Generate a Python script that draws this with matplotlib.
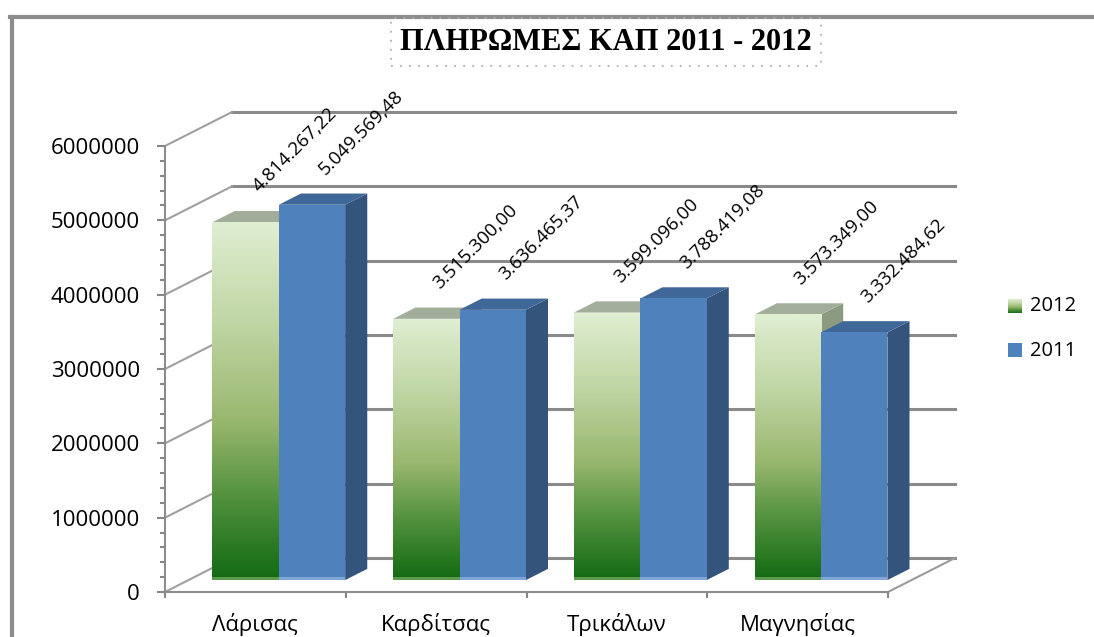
import numpy as np
import matplotlib
matplotlib.use("Agg")
import matplotlib.pyplot as plt
from matplotlib.patches import Polygon, Rectangle
from matplotlib.lines import Line2D
from matplotlib.colors import LinearSegmentedColormap
from matplotlib.ticker import MultipleLocator

categories = ["Λάρισας", "Καρδίτσας", "Τρικάλων", "Μαγνησίας"]
series_names = ["2012", "2011"]
values_2012 = [4814267.22, 3515300.00, 3599096.00, 3573349.00]
values_2011 = [5049569.48, 3636465.37, 3788419.08, 3332484.62]
y_ticks = [0, 1000000, 2000000, 3000000, 4000000, 5000000, 6000000]
title = "ΠΛΗΡΩΜΕΣ ΚΑΠ 2011 - 2012"

plt.rcParams['font.family'] = ['Open Sans', 'DejaVu Sans']

W, H = 1094, 637
fig = plt.figure(figsize=(W / 100, H / 100), dpi=100)
ax = fig.add_axes([165 / W, 45 / H, 723 / W, 446 / H])
ax.patch.set_visible(False)

# fake depth: one unit of depth moves 67 px right and 34 px up
KX = 67 / 180.75
KY = 34 / 74.33 * 1e6


def proj(x, y, d):
    return x + KX * d, y + KY * d


def gr_fmt(v):
    s = f"{v:,.2f}"
    return s.replace(",", "#").replace(".", ",").replace("#", ".")


grid_c = "#8a8a8a"
# back wall gridlines + left wall diagonals
for v in y_ticks:
    bx0, by0 = proj(-0.5, v, 1)
    bx1, by1 = proj(3.5, v, 1)
    ax.plot([bx0, bx1], [by0, by1], color=grid_c, lw=2.2, clip_on=False, zorder=1)
    ax.plot([-0.5, bx0], [v, by0], color="#a0a0a0", lw=1.5, clip_on=False, zorder=1)
fx, fy = proj(3.5, 0, 1)
ax.plot([3.5, fx], [0, fy], color="#9a9a9a", lw=1.5, clip_on=False, zorder=1)

green_cmap = LinearSegmentedColormap.from_list(
    "g", [(0, "#126a12"), (0.22, "#4f8f3c"), (0.45, "#9ab870"),
          (0.72, "#c0d6a4"), (1, "#e0eed2")])
grad = np.linspace(1, 0, 256).reshape(-1, 1)

bw = 0.367
d0, d1 = 0.35, 0.68
z = 2


def draw_bar(x0, x1, h, front, side, top, strip, gradient=False):
    global z
    side_pts = [proj(x1, 0, d0), proj(x1, 0, d1), proj(x1, h, d1), proj(x1, h, d0)]
    ax.add_patch(Polygon(side_pts, closed=True, fc=side, ec="none", clip_on=False, zorder=z))
    top_pts = [proj(x0, h, d0), proj(x1, h, d0), proj(x1, h, d1), proj(x0, h, d1)]
    ax.add_patch(Polygon(top_pts, closed=True, fc=top, ec="none", clip_on=False, zorder=z))
    fx0, fy0 = proj(x0, 0, d0)
    rect = Rectangle((fx0, fy0), x1 - x0, h, fc=front, ec="none", clip_on=False, zorder=z)
    ax.add_patch(rect)
    if gradient:
        im = ax.imshow(grad, cmap=green_cmap, vmin=0, vmax=1, aspect="auto",
                       extent=[fx0, fx0 + x1 - x0, fy0, fy0 + h], origin="upper",
                       interpolation="bilinear", zorder=z)
        im.set_clip_path(rect)
    ax.add_patch(Rectangle((fx0, fy0), x1 - x0, 40000, fc=strip, ec="none",
                           clip_on=False, zorder=z + 0.5))
    z += 1


for i in range(len(categories)):
    draw_bar(i - bw, i, values_2012[i], "#9ab870", "#8c9a80", "#a2ae9a", "#5b9a4c", True)
    draw_bar(i, i + bw, values_2011[i], "#4f81bd", "#34547c", "#3f6797", "#80a6d8")

for i in range(len(categories)):
    for xc, v in ((i - bw / 2, values_2012[i]), (i + bw / 2, values_2011[i])):
        ax.annotate(gr_fmt(v), xy=proj(xc, v, 0.515), xytext=(1.5, 17),
                    textcoords="offset points", rotation=45, rotation_mode="anchor",
                    ha="left", va="baseline", fontsize=13.5, annotation_clip=False,
                    zorder=50)

ax.set_xlim(-0.5, 3.5)
ax.set_ylim(0, 6e6)
for s in ("top", "right"):
    ax.spines[s].set_visible(False)
for s in ("left", "bottom"):
    ax.spines[s].set_color("#8c8c8c")
    ax.spines[s].set_linewidth(1.5)

ax.set_yticks(y_ticks)
ax.set_yticklabels([str(v) for v in y_ticks])
ax.yaxis.set_minor_locator(MultipleLocator(200000))
ax.tick_params(axis="y", which="major", length=6, width=1.5, color="#868686",
               pad=12, labelsize=16)
ax.tick_params(axis="y", which="minor", length=3.6, width=1.5, color="#868686")

ax.set_xticks([-0.5, 0.5, 1.5, 2.5, 3.5])
ax.set_xticklabels([])
ax.set_xticks(range(len(categories)), minor=True)
ax.set_xticklabels(categories, minor=True)
ax.tick_params(axis="x", which="major", length=4, width=1.5, color="#868686")
ax.tick_params(axis="x", which="minor", length=0, pad=15, labelsize=16)

# legend
lax = fig.add_axes([1008 / W, 1 - 313 / H, 14 / W, 14 / H])
lax.imshow(grad, cmap=green_cmap, vmin=0, vmax=1, aspect="auto", interpolation="bilinear")
lax.axis("off")
fig.add_artist(Rectangle((1008 / W, 1 - 357 / H), 14 / W, 14 / H, fc="#4f81bd", ec="none",
                         transform=fig.transFigure))
fig.text(1030 / W, 1 - 306 / H, series_names[0], va="center", fontsize=14.5)
fig.text(1030 / W, 1 - 351 / H, series_names[1], va="center", fontsize=14.5)

# title with dotted box
fig.text(606 / W, 1 - 42 / H, title, family="Liberation Serif", weight="bold",
         fontsize=22, ha="center", va="center",
         bbox=dict(boxstyle="square,pad=0.3", fc="none", ec="#b0b0b0",
                   ls=(0, (1, 4)), lw=1.3))

# outer frame
fig.add_artist(Line2D([11.5 / W, 11.5 / W], [0, 1 - 16.5 / H], color="#8c8c8c", lw=3))
fig.add_artist(Line2D([10 / W, 1], [1 - 16.5 / H, 1 - 16.5 / H], color="#8c8c8c", lw=3))

fig.savefig("out.png", dpi=100)
